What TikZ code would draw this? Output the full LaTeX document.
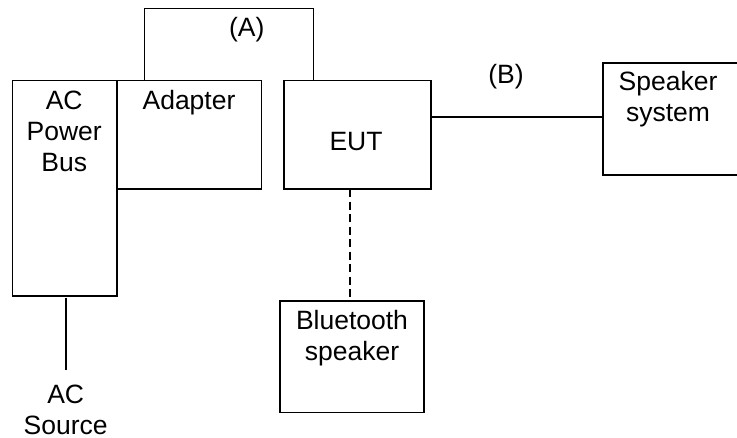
\documentclass[tikz,border=0pt]{standalone}
\usepackage{fontspec}
\setmainfont{Liberation Sans}
\begin{document}
\begin{tikzpicture}[x=1pt,y=-1pt,
  wire/.style={line width=1.6pt},
  unit/.style={draw,line width=1.6pt,inner sep=0pt},
  lbl/.style={inner sep=0pt,align=center,font=\fontsize{26.5}{31}\selectfont},
  air/.style={line width=1.6pt,dash pattern=on 8pt off 4.5pt}]
\useasboundingbox (0,0) rectangle (737,437);
\clip (0,0) rectangle (737,437);

% equipment boxes
\draw[unit] (12.3,80.3) rectangle (117,295.7);
\node[lbl,anchor=north] (bus) at (64.2,90.5) {AC\\Power\\Bus};

\draw[unit] (117,80.3) rectangle (261.3,189);
\node[lbl,anchor=north] (adapter) at (189,90.5) {Adapter};

\draw[unit] (284,80.3) rectangle (431,189);
\node[lbl] (eut) at (356,142) {EUT};

\draw[unit] (602.7,62.7) rectangle (780,175);
\node[lbl,anchor=north] (spk) at (668,71.5) {Speaker\\system};

\draw[unit] (280,300.7) rectangle (424,412.3);
\node[lbl,anchor=north] (bt) at (352,310) {Bluetooth\\speaker};

\node[lbl,anchor=north] (src) at (65.7,384.3) {AC\\Source};

% connection points on the box outlines
\coordinate (adTop) at (144.3,80.3);
\coordinate (eutTop) at (313.3,80.3);
\coordinate (eutE) at (431,116.7);
\coordinate (spkW) at (602.7,116.7);
\coordinate (eutS) at (350,189);
\coordinate (btN) at (350,300.7);
\coordinate (busLine) at (65.7,298.3);
\coordinate (srcLine) at (65.7,370);

% cable (A): adapter to EUT
\draw[wire] (adTop) -- (144.3,8.3) -- (313.3,8.3) -- (eutTop);
\node[lbl] (cableA) at (246.7,30) {(A)};

% cable (B): EUT to speaker system
\draw[wire] (eutE) -- (spkW);
\node[lbl] (cableB) at (506,77) {(B)};

% wireless link
\draw[air] (eutS) -- (btN);

% mains feed
\draw[wire] (busLine) -- (srcLine);
\end{tikzpicture}
\end{document}
